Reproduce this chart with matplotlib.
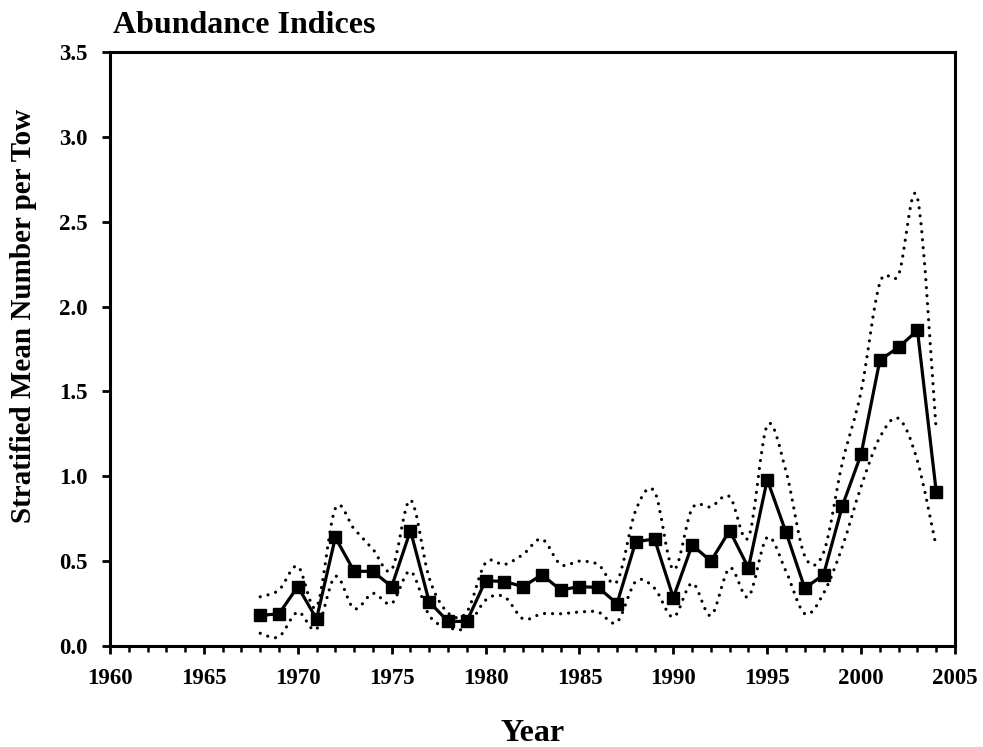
import numpy as np
import matplotlib
matplotlib.use("Agg")
import matplotlib.pyplot as plt
from matplotlib.path import Path
from matplotlib.patches import PathPatch
from matplotlib.ticker import MultipleLocator

plt.rcParams["font.family"] = ["Liberation Serif", "DejaVu Serif"]
plt.rcParams["font.weight"] = "bold"

# ---------------------------------------------------------------------------
# Data
# ---------------------------------------------------------------------------
years = list(range(1968, 2005))
mean_index = [0.18, 0.19, 0.35, 0.16, 0.64, 0.44, 0.44, 0.35, 0.68, 0.26,
              0.145, 0.145, 0.385, 0.38, 0.35, 0.42, 0.33, 0.35, 0.345, 0.25,
              0.615, 0.63, 0.285, 0.595, 0.50, 0.68, 0.46, 0.98, 0.67, 0.34,
              0.42, 0.825, 1.13, 1.685, 1.76, 1.86, 0.91]
upper_ci = [0.29, 0.33, 0.47, 0.23, 0.81, 0.69, 0.57, 0.45, 0.86, 0.40,
            0.195, 0.20, 0.49, 0.48, 0.54, 0.63, 0.48, 0.50, 0.48, 0.38,
            0.80, 0.91, 0.45, 0.81, 0.82, 0.88, 0.64, 1.30, 1.03, 0.53,
            0.55, 1.08, 1.50, 2.14, 2.19, 2.64, 1.27]
lower_ci = [0.075, 0.055, 0.20, 0.10, 0.41, 0.22, 0.31, 0.25, 0.44, 0.18,
            0.11, 0.11, 0.27, 0.29, 0.16, 0.19, 0.19, 0.20, 0.20, 0.14,
            0.38, 0.34, 0.17, 0.37, 0.18, 0.46, 0.29, 0.64, 0.44, 0.19,
            0.31, 0.585, 0.94, 1.23, 1.34, 1.09, 0.585]


def smooth_path(x, y):
    """Spreadsheet-style smoothed line: Catmull-Rom segments as cubic Beziers."""
    pts = np.column_stack([np.asarray(x, float), np.asarray(y, float)])
    n = len(pts)
    verts = [pts[0]]
    codes = [Path.MOVETO]
    for i in range(n - 1):
        p0 = pts[i - 1] if i > 0 else pts[i]
        p1 = pts[i]
        p2 = pts[i + 1]
        p3 = pts[i + 2] if i + 2 < n else pts[i + 1]
        verts += [p1 + (p2 - p0) / 6.0, p2 - (p3 - p1) / 6.0, p2]
        codes += [Path.CURVE4] * 3
    return Path(verts, codes)


fig = plt.figure(figsize=(9.83, 7.47), dpi=100)
ax = fig.add_axes([110 / 983, 101 / 747, 845 / 983, 594 / 747])

for band in (upper_ci, lower_ci):
    ax.add_patch(PathPatch(smooth_path(years, band), fill=False,
                           edgecolor="black", lw=2.3,
                           linestyle=(0, (0.01, 2.5)), capstyle="round",
                           zorder=2))

ax.plot(years, mean_index, color="black", lw=2.3, marker="s", ms=8.8,
        zorder=3)

ax.set_xlim(1960, 2005)
ax.set_ylim(0, 3.5)
ax.xaxis.set_major_locator(MultipleLocator(5))
ax.xaxis.set_minor_locator(MultipleLocator(1))
ax.yaxis.set_major_locator(MultipleLocator(0.5))
ax.yaxis.set_major_formatter(matplotlib.ticker.FormatStrFormatter("%.1f"))

for s in ax.spines.values():
    s.set_linewidth(2.2)
ax.tick_params(axis="x", which="major", length=6, width=2, pad=10,
               labelsize=16.5)
ax.tick_params(axis="x", which="minor", length=4, width=1.8)
ax.tick_params(axis="y", which="major", length=6, width=2, pad=10,
               labelsize=16.5)
for lab in ax.get_xticklabels() + ax.get_yticklabels():
    lab.set_fontweight("bold")

fig.text(113 / 983, 1 - 33 / 747, "Abundance Indices", fontsize=23,
         fontweight="bold", ha="left", va="baseline")
fig.text(533 / 983, 1 - 741 / 747, "Year", fontsize=23, fontweight="bold",
         ha="center", va="baseline")
fig.text(24 / 983, 1 - 316 / 747, "Stratified Mean Number per Tow",
         fontsize=21, fontweight="bold", rotation=90, ha="center",
         va="center")

fig.savefig("out.png", dpi=100)
